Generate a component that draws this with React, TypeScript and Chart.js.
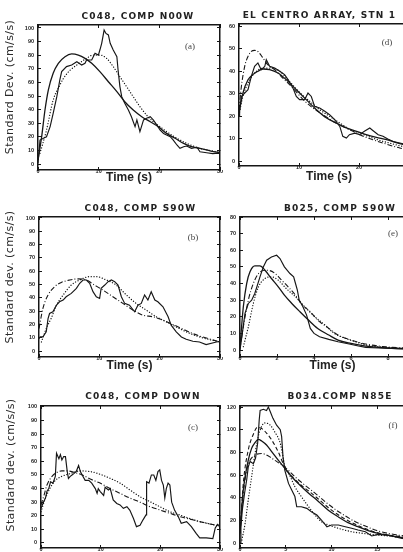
import React, { useEffect, useRef } from 'react';
import { Chart, registerables } from 'chart.js';

Chart.register(...registerables);

type P = [number, number];

// ---------- (a) C048, COMP N00W ----------
const aObserved: P[] = [[0,0.5],[0.33,17.6],[0.9,18.9],[1.4,20],[2,27.5],[2.5,37.3],[3.1,49.5],[3.6,61.8],[3.9,67.9],[4.7,71.6],[5.55,72.8],[6.4,75.2],[7.2,72.8],[7.75,74],[8,76.5],[8.85,76.5],[9.4,81.4],[9.95,80.1],[10.2,83.8],[10.5,88.7],[10.9,98.5],[11.2,96],[11.6,94.9],[11.9,88.7],[12.4,83.8],[13,78.9],[13.2,69.1],[13.5,56.9],[13.8,49.5],[14.3,44.6],[14.9,39.7],[15.4,34.8],[16,27.5],[16.3,32.4],[16.8,23.8],[17.4,32.4],[17.9,33.6],[18.5,34.8],[19,32.4],[19.6,28.7],[20.1,25],[20.7,22.5],[21.2,21.3],[21.8,20.1],[22.3,17.6],[22.9,14],[23.4,11.5],[24,12.7],[24.5,13.2],[25.3,11.5],[26.2,12.3],[26.7,9],[27.8,8.3],[28.8,7.6],[29.6,8],[30,7.5]];
const aModel: P[] = [[0,2.9],[0.6,20],[1.15,39.7],[1.7,54.4],[2.5,66.7],[3.35,74],[4.45,78.9],[5.55,80.9],[6.65,80.1],[7.75,77.7],[8.85,74],[10.2,67.9],[11.6,60.5],[13,53.2],[14.3,45.8],[15.7,39.7],[17.1,34.8],[18.5,31.1],[19.8,27.5],[21.2,22.5],[22.6,18.9],[24,15.2],[25.3,12.7],[26.7,11.5],[28.5,9.5],[30,8.3]];
const aDotted: P[] = [[0.33,7.8],[1.4,25],[2.5,47],[3.6,58],[4.2,63],[5.3,69],[6.4,72.8],[8,77.7],[9.1,80.1],[10.2,80.1],[11.3,77.7],[12.4,71.6],[13.5,64.2],[14.6,56.9],[15.7,49.5],[16.8,42.2],[17.9,36],[19,31.1],[20.1,27.5],[21.2,23.8],[22.9,18.9],[24.5,15.2],[26.7,11.5],[28.5,9.8],[30,8.5]];

// ---------- (d) EL CENTRO ARRAY, STN 1 ----------
const dObserved: P[] = [[0,19.9],[0.1,22.8],[0.4,28.7],[0.95,30.2],[1.5,31.7],[2.05,37.6],[2.6,42.1],[3.15,43.6],[3.7,40.6],[4.3,42.1],[4.55,45],[5.1,42.1],[5.95,41.3],[6.8,39.9],[7.6,38.4],[8.2,36.1],[9,32.4],[9.55,28.7],[10.1,27.3],[10.95,27.3],[11.5,30.2],[12.05,28.7],[12.6,24.3],[13.45,23.6],[14.3,22.1],[15.1,20.6],[15.95,18.4],[16.8,15.4],[17.3,11],[17.9,10.2],[18.4,11.7],[19.3,12.4],[20.1,11.7],[20.9,13.2],[21.8,14.7],[22.3,13.6],[23.2,11.7],[24,11],[24.8,9.8],[25.7,8.7],[26.8,8],[27.9,7.3],[30,6.5]];
const dModel: P[] = [[0,21.3],[0.65,30.2],[1.5,36.1],[2.3,38.4],[3.15,39.9],[4,40.9],[5.1,40.6],[6.5,39.1],[7.9,36.1],[9.55,31.7],[11.2,27.3],[12.9,22.8],[14.6,19.1],[16.2,16.9],[17.9,14.7],[19.6,13.2],[21.2,11.7],[22.9,10.5],[24.6,9.5],[26.8,7.7],[28.4,6.8],[30,6]];
const dDashDot: P[] = [[0,22.8],[0.4,33.2],[0.95,42.1],[1.5,46.5],[2.05,48.7],[2.6,49.2],[3.15,48.7],[4,45.8],[4.8,42.8],[5.95,40.6],[7.3,36.9],[9,32.4],[10.7,27.3],[12.3,23.6],[14,20.6],[15.7,17.6],[17.3,15.4],[19,13.2],[20.7,11],[22.3,9.5],[24,8],[26.8,5.8],[28.4,5],[30,4.3]];
const dDotted: P[] = [[0,20.6],[0.65,28.7],[1.8,36.1],[2.9,39.9],[4,41.3],[5.4,41.3],[6.8,39.9],[8.4,35.4],[10.1,30.5],[11.8,26.5],[13.45,22.8],[15.1,19.9],[16.8,16.9],[18.4,14.2],[20.1,12.4],[21.8,10.7],[23.4,9.2],[25.1,8],[26.8,6.8],[30,5.5]];

// ---------- (b) C048, COMP S90W ----------
const bObserved: P[] = [[0,9.3],[0.2,10.6],[0.65,10.6],[1.2,14.4],[1.5,24.4],[1.75,28.2],[2.3,29.5],[2.9,34.5],[3.4,37],[4,38.3],[4.5,40.8],[5.35,43.3],[6.2,47.1],[6.75,50.9],[7.3,53.4],[7.85,53.4],[8.4,50.9],[8.95,44.6],[9.5,40.8],[10.05,39.5],[10.3,47.1],[10.9,49.6],[11.45,52.1],[12,53.4],[12.55,52.1],[13.1,49.6],[13.65,40.8],[14.2,35.8],[15,34.5],[15.85,29.5],[16.4,34.5],[16.95,35.8],[17.5,42.1],[18.05,38.3],[18.6,44.6],[19.2,38.3],[19.7,37],[20.55,33.2],[21.4,25.7],[21.9,19.4],[22.75,14.4],[23.6,10.6],[24.4,8.8],[25.5,7.3],[26.6,6.8],[27.7,4.8],[29.4,6.8],[30,7.3]];
const bDashDot: P[] = [[0,16.9],[0.65,32],[1.5,42.1],[2.6,48.4],[3.7,51.6],[5.1,53.4],[6.45,54.2],[7.85,53.4],[9.2,49.6],[10.6,45.8],[12.25,40.8],[13.9,35.8],[15.6,30.7],[17.2,27],[18.9,25.7],[20.55,23.2],[22.2,19.9],[23.9,16.4],[25.5,13.1],[26.6,11.3],[28.3,9],[30,6.8]];
const bDotted: P[] = [[0.4,6.8],[1.2,16.9],[2,24.4],[2.9,34.5],[4,42.1],[5.35,49.6],[6.75,53.4],[8.4,55.9],[9.5,55.9],[11.15,53.4],[12.8,49.6],[14.5,42.1],[16.1,35.8],[17.8,30.7],[19.45,25.7],[21.1,21.9],[22.75,18.1],[24.4,14.4],[26.6,10.6],[30,6.8]];

// ---------- (e) B025, COMP S90W ----------
const eObserved: P[] = [[0,0],[0.1,8],[0.27,22],[0.45,28],[0.63,30],[0.8,34],[1.08,44],[1.26,50],[1.44,54],[1.7,56],[1.98,57],[2.16,55],[2.4,50],[2.7,46],[2.9,44],[3,40],[3.1,36],[3.2,30],[3.4,26],[3.6,21],[3.8,13],[4,10],[4.3,8],[4.8,6.4],[5.3,5],[5.9,3.6],[6.4,2.4],[6.8,1.6],[7.5,1.2],[8.5,0.8],[10,0.5]];
const eModel: P[] = [[0,2],[0.18,26],[0.36,40],[0.54,47],[0.8,50.6],[1.08,50.6],[1.35,48],[1.7,43],[2.07,38],[2.4,33],[2.8,28],[3.24,23],[3.7,18],[4.2,13],[4.8,9],[5.3,6],[6,4],[6.8,2.4],[8,1.2],[10,0.5]];
const eDashDot: P[] = [[0,1],[0.18,14],[0.45,30],[0.72,40],[1,46],[1.35,48],[1.6,47.8],[1.9,46],[2.25,42],[2.6,38],[3,33],[3.3,28],[3.8,23],[4.2,18],[4.8,13],[5.3,9],[5.9,6.4],[6.8,3.6],[8,1.8],[10,0.8]];
const eDotted: P[] = [[0.18,2],[0.45,14],[0.72,28],[1,38],[1.35,43],[1.7,44],[2.07,42],[2.5,37],[3,32],[3.5,26],[4.05,20],[4.6,15],[5.1,10],[5.7,7],[6.4,4.4],[6.8,3],[8,1.5],[10,0.6]];

// ---------- (c) C048, COMP DOWN ----------
const cObserved: P[] = [[0,25.5],[0.4,30],[0.75,33],[1,38],[1.3,40],[1.6,45],[2,44],[2.4,49],[2.6,66],[3,62],[3.25,65],[3.5,61],[3.8,63.5],[4.1,63.5],[4.4,52.5],[4.6,47.5],[4.9,49],[5.2,50],[5.5,51],[5.9,52.5],[6.3,57],[6.6,52.5],[6.9,50],[7.4,46],[8,46],[8.5,44],[9.1,40],[9.4,36.5],[9.6,40],[9.9,38],[10.5,35],[10.75,41],[11,40],[11.3,39],[11.6,40],[12.1,31.6],[12.7,29],[13.25,28],[13.8,25.5],[14.4,26.7],[14.9,24],[15.5,18],[16,12],[16.6,13],[17.1,17],[17.6,20.6],[17.7,45],[18.1,44],[18.5,50],[18.9,50],[19.25,46],[19.6,52.5],[19.9,53.7],[20.2,46],[20.5,42.6],[20.75,33],[21,40],[21.3,44],[21.6,42.6],[21.9,30],[22.4,24],[23,19.4],[23.5,14.5],[24.4,15.7],[25.2,12],[26,7],[26.6,3.7],[27.7,3.7],[28.8,3.2],[29.2,11],[29.6,13.7],[30,12]];
const cDashDot: P[] = [[0,28],[0.5,35],[1,42.6],[1.85,49],[2.7,52],[3.5,53],[4.4,53],[5.5,52],[6.9,50],[8.25,47],[9.9,44],[11.6,40],[13.25,36.5],[14.9,33],[16.6,30],[18.25,26.7],[19.9,24.3],[21.6,21.8],[23.25,19.4],[24.9,17.6],[26.6,15.7],[28.3,14],[30,12.5]];
const cDotted: P[] = [[0,23],[0.75,33],[1.6,41],[2.4,46],[3.5,49],[4.9,51],[6.6,53],[8.25,52.5],[9.9,50.5],[11.6,47.5],[13.25,44],[14.9,39],[16.6,34],[18.25,30.4],[19.9,26.7],[21.6,23],[23.25,20.6],[24.9,18],[26.6,15.7],[28.3,14],[30,12]];

// ---------- (f) B034.COMP N85E ----------
const fObserved: P[] = [[0,0],[0.1,14],[0.25,29],[0.5,44],[0.73,55.6],[0.9,67],[1.1,72],[1.46,70],[1.7,75],[1.93,88],[2.1,108.5],[2.2,117],[2.55,118],[2.9,117],[3.1,120],[3.3,116],[3.6,110],[4,104],[4.4,100],[4.55,94],[4.7,76],[4.9,64],[5.3,52.6],[5.65,46.8],[6,41],[6.2,32],[6.7,32],[7.3,30.6],[7.8,27.6],[8.4,24.7],[8.9,20.3],[9.5,14.4],[10,15.9],[10.75,15.9],[11.5,14.4],[12.2,13],[12.9,11.5],[13.7,10],[14.4,6.2],[15.1,7.6],[16.2,7],[16.9,5.6],[17.7,4.1],[20,3]];
const fModel: P[] = [[0,8.5],[0.36,47],[0.9,73],[1.27,83.5],[1.64,88.5],[2,91.5],[2.37,90],[2.9,86.5],[3.46,80.6],[4.2,73],[4.9,66],[5.65,58.5],[6.56,51],[7.5,44],[8.6,36.5],[9.65,29],[10.75,23],[11.8,18],[12.9,14.4],[14,11],[15.1,8.5],[16.6,6.2],[17.7,4.7],[20,3]];
const fDashed: P[] = [[0,8.5],[0.36,52.6],[0.9,82],[1.46,96],[1.9,102],[2.37,101],[2.9,97],[3.46,91],[4.2,80],[4.9,67],[5.65,59],[6.7,51],[7.8,44],[8.9,36.5],[10,29],[11.1,23],[12.2,18],[13.3,14],[14.4,10.6],[15.8,7.6],[17.7,5.6],[20,4]];
const fDotted: P[] = [[0.2,2.6],[0.55,17],[0.9,38],[1.27,58.5],[1.64,79],[2,94],[2.37,103],[2.7,106],[3.3,104],[3.8,98],[4.4,88],[4.9,68],[5.5,58.5],[6,49.7],[6.7,41],[7.5,32],[8.2,24.7],[8.9,18.8],[9.65,16],[10.75,13],[12.2,10],[14,8],[15.8,6.5],[17.7,5],[20,3.5]];
const fDashDot: P[] = [[0,11.5],[0.36,44],[0.73,64],[1.1,73],[1.64,77.6],[2.37,79],[3.1,76.8],[3.8,73],[4.55,69],[5.3,64],[6,58.5],[7.1,51],[8.2,44],[9.3,36.5],[10.4,29.7],[11.5,24],[12.6,18.8],[13.7,15],[14.75,11.5],[16.2,8.5],[17.7,6.5],[20,4.5]];

// ---------- tick values ----------
const xTicks30 = [0, 10, 20, 30];
const xTicksE = [0, 2, 4, 6, 8, 10];
const xTicksF = [0, 5, 10, 15, 20];
const yTicks100 = [0, 10, 20, 30, 40, 50, 60, 70, 80, 90, 100];
const yTicks60 = [0, 10, 20, 30, 40, 50, 60];
const yTicks80 = [0, 10, 20, 30, 40, 50, 60, 70, 80];
const yTicks120 = [0, 20, 40, 60, 80, 100, 120];

// ---------- text ----------
const titles = ['C048, COMP N00W', 'EL CENTRO ARRAY, STN 1', 'C048, COMP S90W', 'B025, COMP S90W', 'C048, COMP DOWN', 'B034.COMP N85E'];
const panelLabels = ['(a)', '(d)', '(b)', '(e)', '(c)', '(f)'];
const yLabelUpper = 'Standard Dev. (cm/s/s)';
const yLabelLower = 'Standard dev. (cm/s/s)';
const xLabel = 'Time (s)';

type Style = 'obs' | 'smooth' | 'dot' | 'dashdot' | 'dash';
type Series = { data: P[]; style: Style };

type Panel = {
  left: number; top: number; w: number; h: number;
  padTop: number; yW: number; xH: number; xTitle: boolean; xTitlePad: number;
  xMin: number; xMax: number; yMin: number; yMax: number;
  xTicks: number[]; yTicks: number[];
  series: Series[];
  title: string; titleX: number; titleY: number;
  label: string; labelX: number; labelY: number;
  yLabel?: string; yLabelX?: number; yLabelY?: number;
};

const INK = '#161616';
const TEXT = '#222';

const panels: Panel[] = [
  { left: 0, top: 0, w: 226, h: 190, padTop: 20, yW: 38, xH: 20, xTitle: true, xTitlePad: 5,
    xMin: 0, xMax: 30, yMin: -4.4, yMax: 102.2, xTicks: xTicks30, yTicks: yTicks100,
    series: [{ data: aObserved, style: 'obs' }, { data: aModel, style: 'smooth' }, { data: aDotted, style: 'dot' }],
    title: titles[0], titleX: 138, titleY: 16.5, label: panelLabels[0], labelX: 190, labelY: 47,
    yLabel: yLabelUpper, yLabelX: 10, yLabelY: 87 },
  { left: 200, top: 0, w: 225, h: 190, padTop: 19, yW: 39, xH: 24, xTitle: true, xTitlePad: 6,
    xMin: 0, xMax: 30, yMin: -2.2, yMax: 60.9, xTicks: xTicks30, yTicks: yTicks60,
    series: [{ data: dObserved, style: 'obs' }, { data: dModel, style: 'smooth' }, { data: dDashDot, style: 'dashdot' }, { data: dDotted, style: 'dot' }],
    title: titles[1], titleX: 119.5, titleY: 16, label: panelLabels[1], labelX: 187, labelY: 43 },
  { left: 0, top: 190, w: 226, h: 190, padTop: 22, yW: 39, xH: 23, xTitle: true, xTitlePad: 7,
    xMin: 0, xMax: 30, yMin: -4.5, yMax: 100.75, xTicks: xTicks30, yTicks: yTicks100,
    series: [{ data: bObserved, style: 'obs' }, { data: bDashDot, style: 'dashdot' }, { data: bDotted, style: 'dot' }],
    title: titles[2], titleX: 140.5, titleY: 19, label: panelLabels[2], labelX: 193, labelY: 48,
    yLabel: yLabelLower, yLabelX: 10, yLabelY: 87 },
  { left: 200, top: 190, w: 231, h: 190, padTop: 22, yW: 40, xH: 23, xTitle: true, xTitlePad: 7,
    xMin: 0, xMax: 10, yMin: -4.2, yMax: 80, xTicks: xTicksE, yTicks: yTicks80,
    series: [{ data: eObserved, style: 'obs' }, { data: eModel, style: 'smooth' }, { data: eDashDot, style: 'dashdot' }, { data: eDotted, style: 'dot' }],
    title: titles[3], titleX: 140, titleY: 19, label: panelLabels[3], labelX: 193, labelY: 44 },
  { left: 0, top: 380, w: 226, h: 190, padTop: 21, yW: 41, xH: 22, xTitle: false, xTitlePad: 7,
    xMin: 0, xMax: 30, yMin: -3.7, yMax: 100.7, xTicks: xTicks30, yTicks: yTicks100,
    series: [{ data: cObserved, style: 'obs' }, { data: cDashDot, style: 'dashdot' }, { data: cDotted, style: 'dot' }],
    title: titles[4], titleX: 143, titleY: 17, label: panelLabels[4], labelX: 193, labelY: 48,
    yLabel: yLabelLower, yLabelX: 11, yLabelY: 85 },
  { left: 200, top: 380, w: 229, h: 190, padTop: 21, yW: 40, xH: 22, xTitle: false, xTitlePad: 7,
    xMin: 0, xMax: 20, yMin: -4.4, yMax: 120.9, xTicks: xTicksF, yTicks: yTicks120,
    series: [{ data: fObserved, style: 'obs' }, { data: fModel, style: 'smooth' }, { data: fDashed, style: 'dash' }, { data: fDotted, style: 'dot' }, { data: fDashDot, style: 'dashdot' }],
    title: titles[5], titleX: 140, titleY: 17, label: panelLabels[5], labelX: 193, labelY: 46 },
];

function dataset(s: Series) {
  const base: any = {
    data: s.data.map(([x, y]) => ({ x, y })),
    borderColor: INK,
    backgroundColor: INK,
    pointRadius: 0,
    fill: false,
    borderWidth: 1.15,
    tension: 0,
  };
  if (s.style === 'smooth') { base.borderWidth = 1.3; base.cubicInterpolationMode = 'monotone'; }
  if (s.style === 'dot') { base.borderWidth = 1.3; base.borderDash = [0.1, 2.7]; base.borderCapStyle = 'round'; base.cubicInterpolationMode = 'monotone'; }
  if (s.style === 'dashdot') { base.borderWidth = 1.1; base.borderDash = [5, 2, 1, 2]; base.cubicInterpolationMode = 'monotone'; }
  if (s.style === 'dash') { base.borderWidth = 1.1; base.borderDash = [4, 2.5]; base.cubicInterpolationMode = 'monotone'; }
  return base;
}

type Item = { text: string; x: number; y: number; font: string; color: string; rot?: number; spacing?: string };

function makeDecor(items: Item[]) {
  return {
    id: 'decor',
    afterDraw(chart: any) {
      const ctx = chart.ctx;
      items.forEach((t) => {
        ctx.save();
        ctx.font = t.font;
        ctx.fillStyle = t.color;
        ctx.textAlign = 'center';
        ctx.textBaseline = 'middle';
        try { (ctx as any).letterSpacing = t.spacing || '0px'; } catch (e) { /* ignore */ }
        ctx.translate(t.x, t.y);
        if (t.rot) ctx.rotate(t.rot);
        ctx.fillText(t.text, 0, 0);
        ctx.restore();
      });
    },
  };
}

function config(p: Panel): any {
  const setTicks = (vals: number[]) => (s: any) => { s.ticks = vals.map((v) => ({ value: v })); };
  const tickFont = { family: 'Liberation Sans', size: 5.5, weight: 'bold' as const };
  const grid = { drawOnChartArea: false, drawTicks: true, tickLength: -3, color: INK, lineWidth: 1 };
  const border = { display: true, color: INK, width: 1.5 };
  const items: Item[] = [
    { text: p.title, x: p.titleX, y: p.titleY, font: 'bold 9px "DejaVu Sans"', color: TEXT, spacing: '1.2px' },
    { text: p.label, x: p.labelX, y: p.labelY, font: '9px "Liberation Serif"', color: '#444' },
  ];
  if (p.yLabel) items.push({ text: p.yLabel, x: p.yLabelX!, y: p.yLabelY!, font: '11px "DejaVu Sans"', color: '#2a2a2a', rot: -Math.PI / 2, spacing: '0.4px' });
  return {
    type: 'line',
    data: { datasets: p.series.map(dataset) },
    options: {
      responsive: false,
      animation: false,
      events: [],
      layout: { padding: { top: p.padTop, left: 0, right: 0, bottom: 0 } },
      plugins: { legend: { display: false }, tooltip: { enabled: false }, title: { display: false } },
      scales: {
        x: {
          type: 'linear', position: 'bottom', min: p.xMin, max: p.xMax,
          afterBuildTicks: setTicks(p.xTicks),
          afterFit: (s: any) => { s.height = p.xH; },
          ticks: { font: tickFont, color: TEXT, padding: 1.5, maxRotation: 0, autoSkip: false, callback: (v: any) => String(v) },
          grid, border,
          title: { display: p.xTitle, text: xLabel, color: TEXT, font: { family: 'Liberation Sans', size: 12, weight: 'bold' }, padding: { top: 0, bottom: p.xTitlePad } },
        },
        xTop: {
          type: 'linear', position: 'top', min: p.xMin, max: p.xMax,
          afterBuildTicks: setTicks(p.xTicks),
          afterFit: (s: any) => { s.height = 5; },
          ticks: { display: false }, grid, border,
        },
        y: {
          type: 'linear', position: 'left', min: p.yMin, max: p.yMax,
          afterBuildTicks: setTicks(p.yTicks),
          afterFit: (s: any) => { s.width = p.yW; },
          ticks: { font: tickFont, color: TEXT, padding: 7, autoSkip: false, callback: (v: any) => String(v) },
          grid, border,
        },
        yRight: {
          type: 'linear', position: 'right', min: p.yMin, max: p.yMax,
          afterBuildTicks: setTicks(p.yTicks),
          afterFit: (s: any) => { s.width = 6; },
          ticks: { display: false }, grid, border,
        },
      },
    },
    plugins: [makeDecor(items)],
  };
}

function PanelChart({ p }: { p: Panel }) {
  const ref = useRef<HTMLCanvasElement>(null);
  useEffect(() => {
    const chart = new Chart(ref.current as HTMLCanvasElement, config(p));
    return () => chart.destroy();
  }, [p]);
  return (
    <canvas
      ref={ref}
      width={p.w}
      height={p.h}
      style={{ position: 'absolute', left: p.left, top: p.top, width: p.w, height: p.h }}
    />
  );
}

export default function App() {
  return (
    <div style={{ position: 'fixed', left: 0, top: 0, width: 403, height: 552, overflow: 'hidden', background: '#fff' }}>
      {panels.map((p, i) => <PanelChart key={i} p={p} />)}
    </div>
  );
}
